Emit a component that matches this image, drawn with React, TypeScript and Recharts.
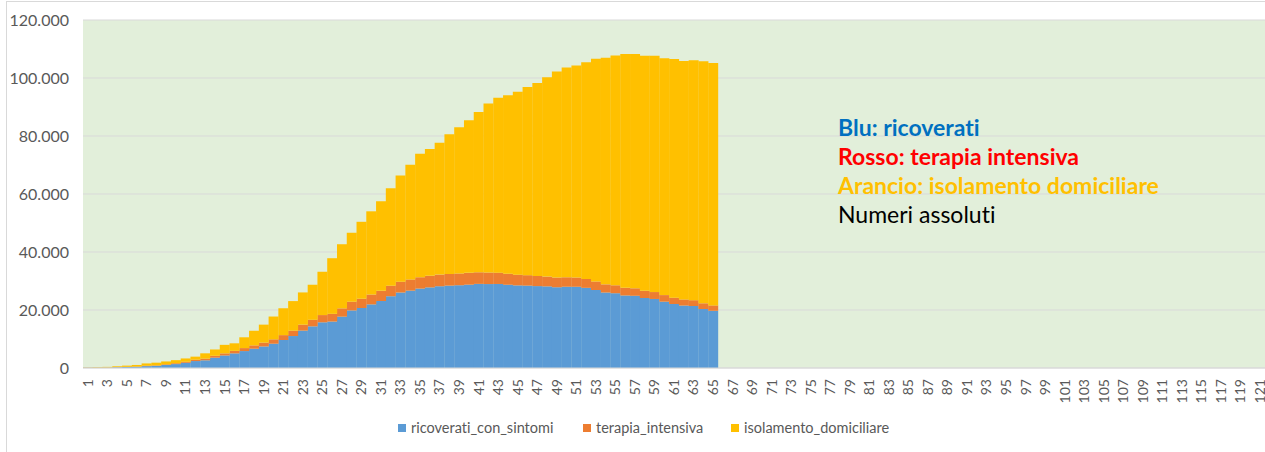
import { BarChart, Bar, XAxis, YAxis, CartesianGrid } from 'recharts'

// giorni 1..121 (asse categorie), dati disponibili solo per i primi 65
const days: string[] = Array.from({ length: 121 }, (_, i) => String(i + 1))

const ricoverati = [
  101, 114, 128, 248, 345, 401, 639, 742, 1034, 1346, 1790, 2394, 2651, 3557, 4316, 5038,
  5838, 6650, 7426, 8372, 9663, 11025, 12894, 14363, 15757, 16020, 17708, 19846, 20692, 21937,
  23112, 24753, 26029, 26676, 27386, 27795, 28192, 28403, 28540, 28741, 29010, 28949, 28976,
  28718, 28485, 28399, 28242, 28144, 27847, 28023, 28011, 27643, 26893, 26033, 25786, 25007,
  24906, 24134, 23805, 22871, 22068, 21533, 21372, 20353, 19723,
]

const terapiaIntensiva = [
  26, 35, 36, 56, 64, 105, 140, 166, 229, 295, 351, 462, 567, 650, 733, 877, 1028, 1153, 1328,
  1518, 1672, 1851, 2060, 2257, 2498, 2655, 2857, 3009, 3204, 3396, 3489, 3612, 3732, 3856, 3906,
  3981, 4023, 4035, 4053, 4068, 3994, 3977, 3898, 3792, 3693, 3605, 3497, 3381, 3343, 3260, 3186,
  3079, 2936, 2812, 2733, 2635, 2573, 2471, 2384, 2267, 2173, 2102, 2009, 1956, 1863,
]

const isolamento = [
  94, 162, 221, 284, 412, 543, 798, 927, 1000, 1065, 1155, 1060, 1843, 2180, 2936, 2599, 3724,
  5036, 6201, 7860, 9268, 10197, 11108, 12090, 14935, 19185, 22116, 23783, 26522, 28697, 30920,
  33648, 36653, 39533, 42588, 43752, 45420, 48134, 50456, 52579, 55270, 58320, 60313, 61557,
  63084, 64873, 66534, 68744, 71063, 72333, 73094, 74696, 76778, 78117, 79252, 80615, 80758,
  81104, 81510, 81710, 82286, 82212, 82722, 83504, 83619,
]

const yTicks = [0, 20000, 40000, 60000, 80000, 100000, 120000]

const FONT = "Lato, 'Open Sans', sans-serif"
const TXT = '#595959'
const noLig = { fontVariantLigatures: 'none' as const }

const data = days.map((d, i) => ({
  day: d,
  ricoverati_con_sintomi: ricoverati[i],
  terapia_intensiva: terapiaIntensiva[i],
  isolamento_domiciliare: isolamento[i],
}))

const fmt = (v: number) => String(v).replace(/\B(?=(\d{3})+(?!\d))/g, '.')

function DayTick({ x, payload }: any) {
  const y = 379
  return (
    <text
      x={x}
      y={y}
      transform={`rotate(-90, ${x}, ${y})`}
      textAnchor="end"
      dy="0.35em"
      fontSize={14}
      fill={TXT}
      fontFamily={FONT}
    >
      {payload.value}
    </text>
  )
}

const legendItems = [
  { label: 'ricoverati_con_sintomi', color: '#5B9BD5', x: 398 },
  { label: 'terapia_intensiva', color: '#ED7D31', x: 583 },
  { label: 'isolamento_domiciliare', color: '#FFC000', x: 731 },
]

const notes = [
  { text: 'Blu: ricoverati', color: '#0070C0', bold: true },
  { text: 'Rosso: terapia intensiva', color: '#FF0000', bold: true },
  { text: 'Arancio: isolamento domiciliare', color: '#FFC000', bold: true },
  { text: 'Numeri assoluti', color: '#000000', bold: false },
]

export default function App() {
  return (
    <div style={{ position: 'absolute', left: 0, top: 0, width: 1265, height: 452, overflow: 'hidden', background: '#fff' }}>
      <div style={{ position: 'absolute', left: 6, top: 1, width: 1300, height: 470, border: '1px solid #D9D9D9' }} />
      <div style={{ position: 'absolute', left: 0, top: 0 }}>
        <BarChart
          width={1265}
          height={452}
          data={data}
          margin={{ top: 20, right: 0, bottom: 0, left: 0 }}
          barCategoryGap={0}
          barGap={0}
        >
          <CartesianGrid vertical={false} stroke="#D9D9D9" fill="#E2EFDA" fillOpacity={1} />
          <XAxis
            dataKey="day"
            interval={1}
            height={84}
            tick={<DayTick />}
            tickLine={false}
            axisLine={{ stroke: '#D9D9D9' }}
          />
          <YAxis
            width={83}
            domain={[0, 120000]}
            ticks={yTicks}
            tickFormatter={fmt}
            tickLine={false}
            axisLine={false}
            tickMargin={8}
            tick={{ fontSize: 16, fill: TXT, fontFamily: FONT }}
          />
          <Bar dataKey="ricoverati_con_sintomi" stackId="a" fill="#5B9BD5" isAnimationActive={false} />
          <Bar dataKey="terapia_intensiva" stackId="a" fill="#ED7D31" isAnimationActive={false} />
          <Bar dataKey="isolamento_domiciliare" stackId="a" fill="#FFC000" isAnimationActive={false} />
        </BarChart>
      </div>
      <svg width={1265} height={452} style={{ position: 'absolute', left: 0, top: 0, pointerEvents: 'none' }}>
        {notes.map((n, i) => (
          <text
            key={n.text}
            x={838}
            y={136 + i * 29}
            fill={n.color}
            fontSize={23}
            fontWeight={n.bold ? 700 : 400}
            fontFamily={FONT}
            style={noLig}
          >
            {n.text}
          </text>
        ))}
        {legendItems.map(l => (
          <g key={l.label}>
            <rect x={l.x} y={424} width={8} height={8} fill={l.color} />
            <text x={l.x + 13} y={433} fontSize={14.5} fill={TXT} fontFamily={FONT} style={noLig}>
              {l.label}
            </text>
          </g>
        ))}
      </svg>
    </div>
  )
}
